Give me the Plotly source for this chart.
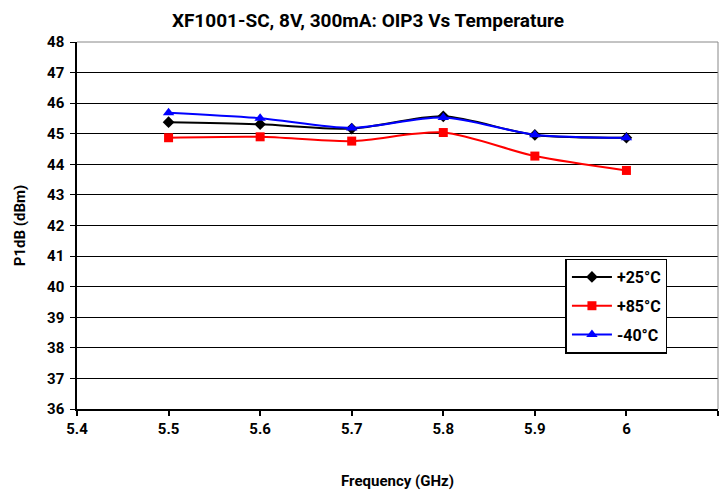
import plotly.graph_objects as go

freq = [5.5, 5.6, 5.7, 5.8, 5.9, 6.0]
t25 = [45.38, 45.31, 45.17, 45.57, 44.96, 44.87]
t85 = [44.87, 44.90, 44.76, 45.04, 44.27, 43.80]
tm40 = [45.69, 45.51, 45.19, 45.53, 44.97, 44.87]

x_ticks = [5.4, 5.5, 5.6, 5.7, 5.8, 5.9, 6.0, 6.1]
x_ticktext = ["5.4", "5.5", "5.6", "5.7", "5.8", "5.9", "6", "6.1"]
y_ticks = list(range(36, 49))

FONT = "Roboto"

fig = go.Figure()
series = [
    ("+25°C", t25, "black", "diamond", 9),
    ("+85°C", t85, "#ff0000", "square", 9),
    ("-40°C", tm40, "#0000ff", "triangle-up", 10),
]
for name, ys, col, sym, sz in series:
    fig.add_trace(go.Scatter(
        x=freq, y=ys, name=name, mode="lines+markers", legendgroup=name,
        line=dict(color=col, width=2, shape="spline", smoothing=0.8),
        marker=dict(color=col, symbol=sym, size=sz),
    ))

fig.update_layout(
    width=720, height=484,
    margin=dict(l=69, r=10, t=34, b=83),
    paper_bgcolor="white", plot_bgcolor="white",
    font=dict(family=FONT, size=14, color="black", weight="bold"),
    title=dict(text="XF1001-SC, 8V, 300mA: OIP3 Vs Temperature",
               x=0.5, xanchor="center", y=0.975, yanchor="middle",
               font=dict(size=19, family=FONT, weight="bold")),
    showlegend=True,
    legend=dict(x=0.762, y=0.41, xanchor="left", yanchor="top",
                bordercolor="black", borderwidth=1.5, bgcolor="white",
                font=dict(size=16, family=FONT, weight="bold"), tracegroupgap=5,
                itemwidth=40),
)
fig.update_xaxes(
    range=[5.4, 6.1], tickvals=x_ticks, ticktext=x_ticktext,
    tickfont=dict(size=15, weight="bold"),
    ticks="outside", ticklen=5, tickcolor="black", tickwidth=1.5,
    showline=True, linecolor="black", linewidth=2, mirror=False,
    showgrid=False, zeroline=False, automargin=False,
    title=dict(text="Frequency (GHz)", standoff=38, font=dict(size=15, weight="bold")),
    ticklabelstandoff=0,
)
fig.update_yaxes(
    range=[36, 48], tickvals=y_ticks,
    tickfont=dict(size=15, weight="bold"),
    ticks="outside", ticklen=5, tickcolor="black", tickwidth=1,
    showline=True, linecolor="black", linewidth=1.5,
    showgrid=True, gridcolor="black", gridwidth=1, zeroline=False,
    ticklabelstandoff=3, automargin=False,
    title=dict(text="P1dB (dBm)", standoff=18, font=dict(size=15, weight="bold")),
)
fig.add_shape(type="line", xref="paper", yref="paper", x0=0, x1=1, y0=1, y1=1,
              line=dict(color="#888888", width=1))
fig.add_shape(type="line", xref="paper", yref="paper", x0=1, x1=1, y0=0, y1=1,
              line=dict(color="#888888", width=1))

fig.write_html("out.html")
